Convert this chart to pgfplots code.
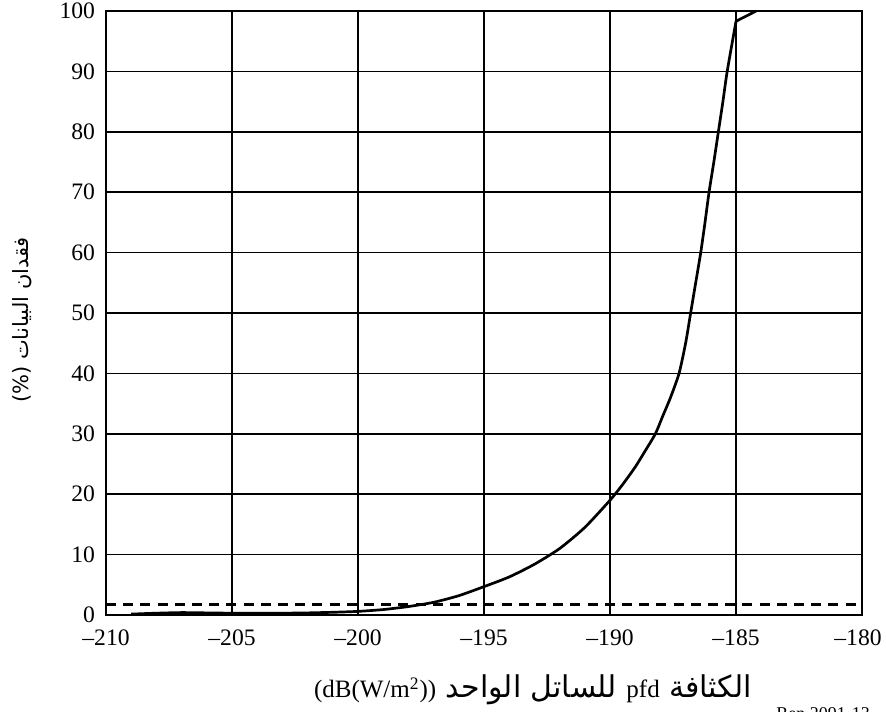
\documentclass[border=0pt]{standalone}
\usepackage{fontspec}
\usepackage{pgfplots}
\pgfplotsset{compat=1.18}
\setmainfont{Liberation Serif}
\newfontfamily\arabicfont[Script=Arabic]{DejaVu Sans}
\newfontfamily\arabicwide[Script=Arabic, Scale=1.2]{DejaVu Sans}
\TeXXeTstate=1

\begin{document}
\begin{tikzpicture}
% page frame
\path[use as bounding box] (-53pt,-48pt) rectangle (390pt,307.5pt);
\begin{axis}[
  at={(0pt,0pt)}, anchor=south west,
  scale only axis,
  width=378pt, height=302pt,
  xmin=-210, xmax=-180, ymin=0, ymax=100,
  xtick={-210,-205,...,-180},
  xticklabels={–210,–205,–200,–195,–190,–185,\hspace*{-4pt}–180},
  ytick={0,10,...,100},
  major tick length=0pt,
  grid=major,
  major grid style={black, line width=0.75pt},
  axis line style={black, line width=0.75pt},
  tick label style={font=\fontsize{11.8}{14}\selectfont},
  /pgf/number format/assume math mode=true,
  xticklabel style={yshift=-4pt},
  yticklabel style={xshift=-2pt},
  clip=false,
]
% threshold level
\addplot[black, line width=1.4pt, dash pattern=on 5pt off 3.6pt] coordinates {(-210,1.8) (-180,1.8)};
% data loss curve
\addplot[black, line width=1.35pt, smooth, tension=0.4] coordinates {
  (-209,0.15) (-208,0.3) (-207,0.4) (-206,0.35) (-205,0.3) (-204,0.3) (-203,0.3)
  (-202,0.35) (-201,0.45) (-200,0.6) (-199,0.9) (-198,1.4) (-197,2.1)
  (-196,3.2) (-195,4.7) (-194,6.3) (-193,8.4) (-192,11.0) (-191,14.5)
  (-190,19.0) (-189.5,21.6) (-189,24.5) (-188.6,27.2) (-188.2,30) (-187.9,33)
  (-187.6,36) (-187.26,40) (-187.0,45) (-186.8,50) (-186.6,55) (-186.4,60)
  (-186.23,65) (-186.07,70) (-185.88,75) (-185.7,80) (-185.52,85) (-185.35,90)
  (-185,98.3)
};
\addplot[black, line width=1.35pt, line join=round] coordinates {(-185,98.3) (-184.2,100)};
\end{axis}
\node[rotate=90, font=\fontsize{10.5}{12}\selectfont] at (-42pt,147.5pt)
  {\arabicfont\beginR فقدان البيانات \beginL(\%)\endL\endR};
\node[font=\fontsize{12.5}{14}\selectfont] at (213.5pt,-37.5pt)
  {\arabicwide\beginR الكثافة \beginL{\rmfamily pfd}\endL{} للساتل الواحد \beginL{\rmfamily(dB(W/m\textsuperscript{2}))}\endL\endR};
\node[anchor=north west, font=\fontsize{9}{10}\selectfont, inner sep=0pt] at (335pt,-46pt) {Rep 2091-13};
\end{tikzpicture}
\end{document}
